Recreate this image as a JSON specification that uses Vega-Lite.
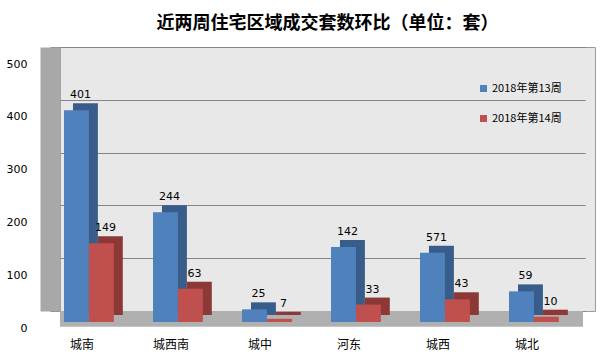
{
  "$schema": "https://vega.github.io/schema/vega-lite/v6.json",
  "width": 535,
  "height": 264,
  "autosize": {"type": "none"},
  "padding": {"left": 60, "top": 47, "right": 8, "bottom": 49},
  "background": "white",
  "title": {
    "text": "近两周住宅区域成交套数环比（单位：套）",
    "font": "Noto Sans CJK SC",
    "fontSize": 18,
    "fontWeight": "bold",
    "color": "#000000",
    "anchor": "middle",
    "offset": 14
  },
  "config": {
    "view": {"fill": "#e8e8e8", "stroke": "#9a9a9a"},
    "axisY": {
      "values": [0, 100, 200, 300, 400, 500],
      "offset": 10,
      "domainWidth": 20,
      "domainColor": "#a8a8a8",
      "ticks": false,
      "tickSize": 0,
      "labelPadding": 23,
      "labelOffset": 17,
      "labelFont": "DejaVu Sans",
      "labelFontSize": 11,
      "labelColor": "#000000",
      "grid": true,
      "gridColor": "#858585",
      "gridWidth": 1,
      "title": null
    }
  },
  "data": {
    "values": [
      {"区域": "城南", "周": "2018年第13周", "值": 401, "标签": "401"},
      {"区域": "城南", "周": "2018年第14周", "值": 149, "标签": "149"},
      {"区域": "城西南", "周": "2018年第13周", "值": 208, "标签": "244"},
      {"区域": "城西南", "周": "2018年第14周", "值": 63, "标签": "63"},
      {"区域": "城中", "周": "2018年第13周", "值": 24, "标签": "25"},
      {"区域": "城中", "周": "2018年第14周", "值": 6, "标签": "7"},
      {"区域": "河东", "周": "2018年第13周", "值": 142, "标签": "142"},
      {"区域": "河东", "周": "2018年第14周", "值": 33, "标签": "33"},
      {"区域": "城西", "周": "2018年第13周", "值": 131, "标签": "571"},
      {"区域": "城西", "周": "2018年第14周", "值": 43, "标签": "43"},
      {"区域": "城北", "周": "2018年第13周", "值": 58, "标签": "59"},
      {"区域": "城北", "周": "2018年第14周", "值": 10, "标签": "10"}
    ]
  },
  "layer": [
    {
      "data": {"values": [{"值": 0, "值2": -30}]},
      "mark": {"type": "rect", "color": "#b0b0b0", "xOffset": -12},
      "encoding": {
        "y": {
          "field": "值",
          "type": "quantitative",
          "scale": {"domain": [0, 500], "nice": false, "zero": false},
          "title": null
        },
        "y2": {"field": "值2"}
      }
    },
    {
      "mark": {"type": "bar", "yOffset": 4, "y2Offset": 4},
      "encoding": {
        "x": {
          "field": "区域",
          "type": "nominal",
          "sort": null,
          "scale": {"paddingInner": 0.44, "paddingOuter": 0.2256, "align": 0.323},
          "axis": null
        },
        "xOffset": {"field": "周", "type": "nominal", "scale": {"type": "band", "paddingInner": 0, "paddingOuter": 0}},
        "y": {"field": "值", "type": "quantitative", "title": null},
        "color": {
          "field": "周",
          "type": "nominal",
          "scale": {"domain": ["2018年第13周", "2018年第14周"], "range": ["#385d8a", "#8c3836"]},
          "legend": null
        }
      }
    },
    {
      "mark": {"type": "bar", "yOffset": 11, "y2Offset": 11},
      "encoding": {
        "x": {
          "field": "区域",
          "type": "nominal",
          "sort": null,
          "scale": {"paddingInner": 0.44, "paddingOuter": 0.2256, "align": 0.1},
          "title": null,
          "axis": {
            "domain": false,
            "ticks": false,
            "tickSize": 0,
            "labelAngle": 0,
            "labelPadding": 28,
            "labelOffset": -7,
            "labelFont": "Noto Sans CJK SC",
            "labelFontSize": 12,
            "labelColor": "#000000"
          }
        },
        "xOffset": {"field": "周", "type": "nominal", "scale": {"type": "band", "paddingInner": 0, "paddingOuter": 0}},
        "y": {"field": "值", "type": "quantitative", "title": null},
        "color": {
          "field": "周",
          "type": "nominal",
          "scale": {"domain": ["2018年第13周", "2018年第14周"], "range": ["#4f81bd", "#c0504d"]},
          "legend": {
            "title": null,
            "orient": "none",
            "legendX": 418,
            "legendY": 36,
            "padding": 0,
            "symbolType": "square",
            "symbolSize": 49,
            "symbolStrokeWidth": 0,
            "labelFont": "Noto Sans CJK SC",
            "labelFontSize": 11,
            "labelColor": "#000000",
            "labelOffset": 3,
            "rowPadding": 18
          }
        }
      }
    },
    {
      "mark": {
        "type": "text",
        "yOffset": 11,
        "dy": -10,
        "baseline": "bottom",
        "font": "DejaVu Sans",
        "fontSize": 11,
        "color": "#000000"
      },
      "encoding": {
        "x": {
          "field": "区域",
          "type": "nominal",
          "sort": null,
          "scale": {"type": "band", "paddingInner": 0.44, "paddingOuter": 0.2256, "align": 0.2},
          "axis": null
        },
        "xOffset": {"field": "周", "type": "nominal", "scale": {"type": "band", "paddingInner": 0, "paddingOuter": 0}},
        "y": {"field": "值", "type": "quantitative", "title": null},
        "text": {"field": "标签"}
      }
    }
  ],
  "resolve": {"scale": {"x": "independent", "xOffset": "independent", "color": "independent"}}
}
